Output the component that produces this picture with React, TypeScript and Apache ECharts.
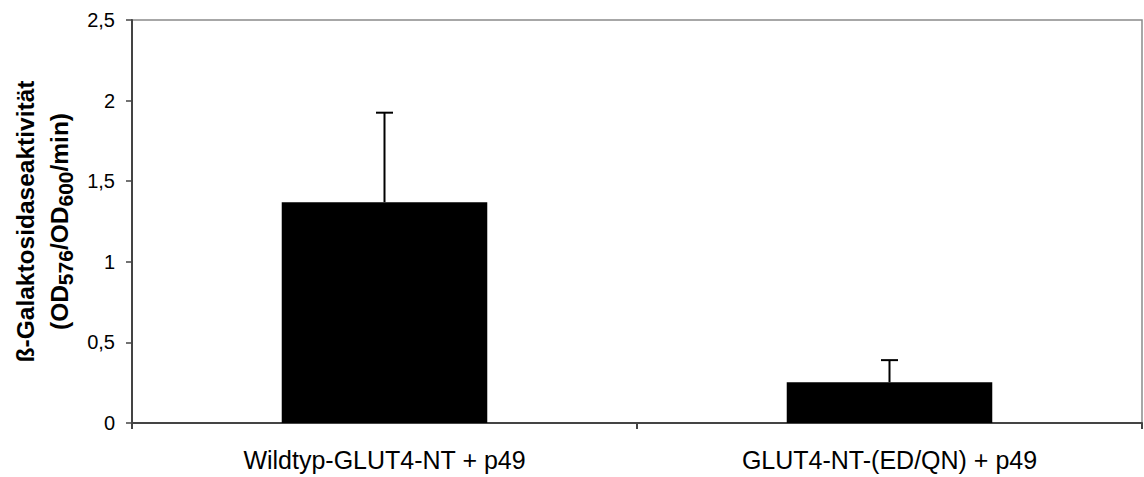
import React, { useEffect, useRef } from "react";
import * as echarts from "echarts";

const categories = ["Wildtyp-GLUT4-NT + p49", "GLUT4-NT-(ED/QN) + p49"];
const meanValues = [1.37, 0.253];
const upperError = [1.925, 0.39];
const yTicks = { min: 0, max: 2.5, interval: 0.5 };

export default function App() {
  const ref = useRef<HTMLDivElement>(null);
  useEffect(() => {
    if (!ref.current) return;
    const chart = echarts.init(ref.current, null, { renderer: "svg" });
    const font = "'Liberation Sans', Arial, sans-serif";
    chart.setOption({
      animation: false,
      textStyle: { fontFamily: font },
      grid: {
        left: 130,
        top: 20,
        right: 2,
        bottom: 54,
        show: true,
        borderColor: "#8a8a8a",
        borderWidth: 1.5,
      },
      xAxis: {
        type: "category",
        data: categories,
        boundaryGap: true,
        axisLine: { lineStyle: { color: "#444", width: 2 } },
        axisTick: { show: true, length: 6, inside: false, lineStyle: { color: "#444", width: 2 } },
        axisLabel: { color: "#000", fontSize: 25, fontFamily: font, margin: 24 },
      },
      yAxis: {
        type: "value",
        min: yTicks.min,
        max: yTicks.max,
        interval: yTicks.interval,
        splitLine: { show: false },
        axisLine: { show: true, lineStyle: { color: "#444", width: 2 } },
        axisTick: { show: true, length: 6, lineStyle: { color: "#444", width: 1.5 } },
        axisLabel: {
          color: "#000",
          fontSize: 20,
          fontFamily: font,
          margin: 17,
          formatter: (v: number) => String(v).replace(".", ","),
        },
        name: "{b|ß-Galaktosidaseaktivität}\n{b|(OD}{s|576}{b|/OD}{s|600}{b|/min)}",
        nameLocation: "middle",
        nameRotate: 90,
        nameGap: 56,
        nameTextStyle: {
          fontFamily: font,
          lineHeight: 34,
          rich: {
            b: { fontSize: 24.5, fontWeight: "bold", color: "#000", fontFamily: font, lineHeight: 34 },
            s: { fontSize: 21, fontWeight: "bold", color: "#000", fontFamily: font, verticalAlign: "bottom", lineHeight: 30 },
          },
        },
      },
      series: [
        {
          type: "bar",
          data: meanValues,
          barWidth: "40.7%",
          itemStyle: { color: "#000" },
          z: 2,
        },
        {
          type: "custom",
          z: 3,
          data: meanValues.map((m, i) => [i, m, upperError[i]]),
          renderItem: (params: any, api: any) => {
            const i = api.value(0);
            const lo = api.coord([i, api.value(1)]);
            const hi = api.coord([i, api.value(2)]);
            const half = 8.5;
            return {
              type: "group",
              children: [
                { type: "line", shape: { x1: lo[0], y1: lo[1], x2: hi[0], y2: hi[1] }, style: { stroke: "#000", lineWidth: 2 } },
                { type: "line", shape: { x1: hi[0] - half, y1: hi[1], x2: hi[0] + half, y2: hi[1] }, style: { stroke: "#000", lineWidth: 2 } },
              ],
            };
          },
        },
      ],
    });
    return () => chart.dispose();
  }, []);
  return <div ref={ref} style={{ width: 1144, height: 477, position: "absolute", left: 0, top: 0, background: "#fff" }} />;
}
